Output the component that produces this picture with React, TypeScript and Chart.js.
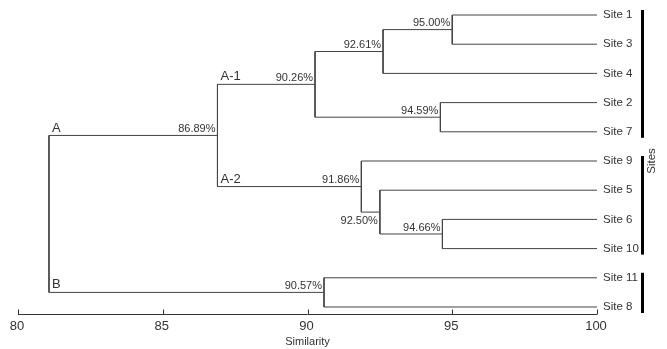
import React, { useEffect, useRef } from "react";
import { Chart, registerables } from "chart.js";

Chart.register(...registerables);

// ---- data ----
const leaves = ["Site 1", "Site 3", "Site 4", "Site 2", "Site 7", "Site 9", "Site 5", "Site 6", "Site 10", "Site 11", "Site 8"];
const nodeIds = ["n1", "n2", "n3", "n4", "n5", "n6", "n7", "n8", "n9", "root"];
const nodeLeft = ["Site 1", "n1", "Site 2", "n2", "Site 6", "Site 5", "Site 9", "n4", "Site 11", "n8"];
const nodeRight = ["Site 3", "Site 4", "Site 7", "n3", "Site 10", "n5", "n6", "n7", "Site 8", "n9"];
const nodeSimilarity = [95.0, 92.61, 94.59, 90.26, 94.66, 92.5, 91.86, 86.89, 90.57, 81.07];
const nodeLabels = ["95.00%", "92.61%", "94.59%", "90.26%", "94.66%", "92.50%", "91.86%", "86.89%", "90.57%", ""];
const labelBelow = ["n6"];
const clusterNames = ["A-1", "A-2", "A", "B"];
const clusterNodes = ["n4", "n7", "n8", "n9"];
const groupRanges = [[0, 4], [5, 8], [9, 10]];
const xTicks = [80, 85, 90, 95, 100];
const xTickLabels = ["80", "85", "90", "95", "100"];
const xTitle = "Similarity";
const yTitle = "Sites";
const leafSimilarity = 100;

const FONT = "'Liberation Sans', Arial, sans-serif";
const LINE = "#444";
const TEXT = "#333";

type Pos = { x: number; y: number };

function layout() {
  const pos: Record<string, Pos> = {};
  const parent: Record<string, string> = {};
  leaves.forEach((l, i) => (pos[l] = { x: leafSimilarity, y: i }));
  nodeIds.forEach((id, i) => {
    const a = pos[nodeLeft[i]];
    const b = pos[nodeRight[i]];
    pos[id] = { x: nodeSimilarity[i], y: (a.y + b.y) / 2 };
    parent[nodeLeft[i]] = id;
    parent[nodeRight[i]] = id;
  });
  return { pos, parent };
}

export default function App() {
  const ref = useRef<HTMLCanvasElement | null>(null);
  useEffect(() => {
    document.body.style.margin = "0";
    const { pos, parent } = layout();
    const datasets = nodeIds.map((id, i) => {
      const a = pos[nodeLeft[i]];
      const b = pos[nodeRight[i]];
      const n = pos[id];
      return {
        data: [
          { x: a.x, y: a.y },
          { x: n.x, y: a.y },
          { x: n.x, y: b.y },
          { x: b.x, y: b.y },
        ],
        showLine: true,
        borderColor: LINE,
        borderWidth: 1,
        pointRadius: 0,
        fill: false,
        tension: 0,
      };
    });

    const overlay = {
      id: "overlay",
      afterDraw(chart: any) {
        const ctx = chart.ctx as CanvasRenderingContext2D;
        const xs = chart.scales.x;
        const ys = chart.scales.y;
        const ca = chart.chartArea;
        ctx.save();
        // axis line + tick marks
        ctx.strokeStyle = "#333";
        ctx.lineWidth = 1;
        const ay = Math.round(ca.bottom) + 0.5;
        ctx.beginPath();
        ctx.moveTo(xs.getPixelForValue(80), ay);
        ctx.lineTo(xs.getPixelForValue(100), ay);
        xTicks.forEach((t) => {
          const px = Math.round(xs.getPixelForValue(t)) + 0.5;
          ctx.moveTo(px, ay);
          ctx.lineTo(px, ay - 5);
        });
        ctx.stroke();

        // tick labels + title
        ctx.fillStyle = TEXT;
        ctx.font = `13px ${FONT}`;
        ctx.textAlign = "center";
        ctx.textBaseline = "middle";
        xTicks.forEach((t, i) => {
          ctx.fillText(xTickLabels[i], xs.getPixelForValue(t) - 1, ay + 12);
        });
        ctx.font = `11px ${FONT}`;
        ctx.fillText(xTitle, xs.getPixelForValue(90), ay + 27);

        // leaf labels
        ctx.font = `11.5px ${FONT}`;
        ctx.textAlign = "left";
        ctx.textBaseline = "middle";
        leaves.forEach((l, i) => {
          ctx.fillText(l, xs.getPixelForValue(leafSimilarity) + 6, ys.getPixelForValue(i));
        });

        // node labels
        ctx.font = `11px ${FONT}`;
        nodeIds.forEach((id, i) => {
          if (!nodeLabels[i]) return;
          const p = pos[id];
          const px = xs.getPixelForValue(p.x);
          const py = ys.getPixelForValue(p.y);
          ctx.textAlign = "right";
          if (labelBelow.includes(id)) {
            ctx.textBaseline = "top";
            ctx.fillText(nodeLabels[i], px - 2, py + 3);
          } else {
            ctx.textBaseline = "bottom";
            ctx.fillText(nodeLabels[i], px - 2, py - 1);
          }
        });

        // cluster labels
        ctx.font = `13px ${FONT}`;
        ctx.textAlign = "left";
        ctx.textBaseline = "bottom";
        clusterNames.forEach((name, i) => {
          const id = clusterNodes[i];
          const par = pos[parent[id]];
          const px = xs.getPixelForValue(par.x);
          const py = ys.getPixelForValue(pos[id].y);
          ctx.fillText(name, px + 3, py - 1);
        });

        // group bars
        ctx.fillStyle = "#000";
        groupRanges.forEach(([s, e]) => {
          const y0 = ys.getPixelForValue(s) - 5;
          const y1 = ys.getPixelForValue(e) + 6;
          ctx.fillRect(641, y0, 3, y1 - y0);
        });

        // "Sites" axis title
        ctx.fillStyle = TEXT;
        ctx.font = `11.5px ${FONT}`;
        ctx.translate(652, ys.getPixelForValue(5));
        ctx.rotate(-Math.PI / 2);
        ctx.textAlign = "center";
        ctx.textBaseline = "middle";
        ctx.fillText(yTitle, 0, 0);
        ctx.restore();
      },
    };

    const chart = new Chart(ref.current as HTMLCanvasElement, {
      type: "scatter",
      data: { datasets: datasets as any },
      options: {
        animation: false,
        responsive: false,
        devicePixelRatio: 1,
        layout: { padding: { left: 18, right: 70, top: 0, bottom: 35 } },
        plugins: { legend: { display: false }, tooltip: { enabled: false } },
        scales: {
          x: {
            type: "linear",
            min: 80,
            max: 100,
            display: false,
          },
          y: {
            type: "linear",
            reverse: true,
            min: -0.514,
            max: 10.24,
            display: false,
          },
        },
      },
      plugins: [overlay],
    });
    return () => chart.destroy();
  }, []);
  return (
    <div style={{ width: 667, height: 349, background: "#fff" }}>
      <canvas ref={ref} width={667} height={349} />
    </div>
  );
}
